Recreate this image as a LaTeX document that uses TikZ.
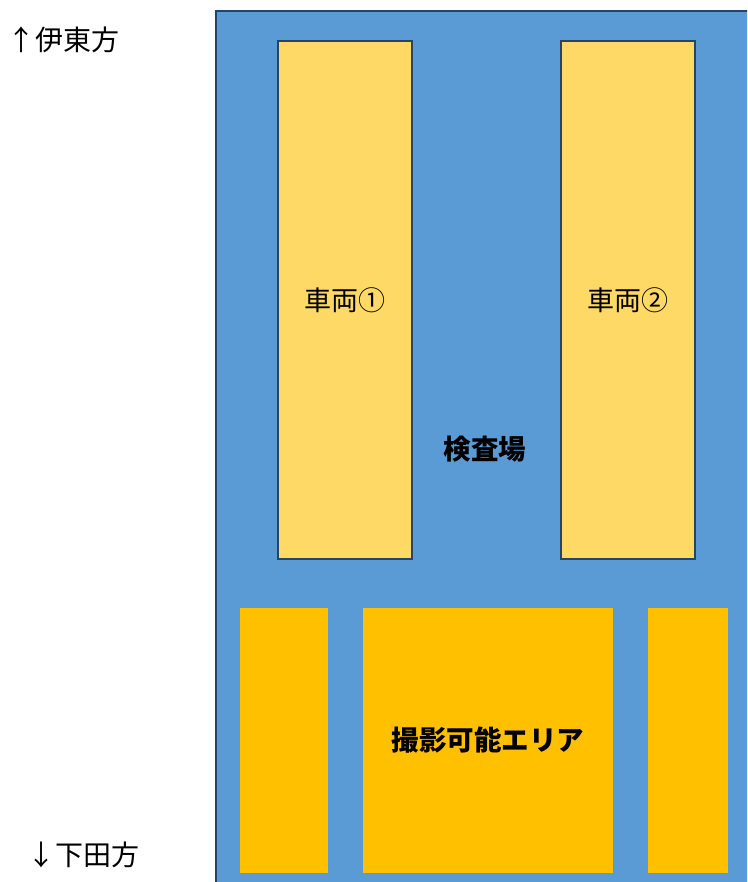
\documentclass[tikz,border=0pt]{standalone}
\usepackage{fontspec}
\setmainfont{Noto Sans CJK JP}
\usetikzlibrary{positioning}
\definecolor{yardblue}{RGB}{91,155,213}
\definecolor{edgeblue}{RGB}{40,68,100}
\definecolor{carfill}{RGB}{255,217,102}
\definecolor{photofill}{RGB}{255,192,0}
\tikzset{%
  yard/.style = { draw=edgeblue, fill=yardblue, line width=2.5pt },
  car/.style = { draw=edgeblue, fill=carfill, line width=2pt, minimum width=134pt, minimum height=518pt, inner sep=0pt, font=\fontsize{27}{31}\selectfont },
  spot/.style = { fill=photofill, minimum height=265pt, inner sep=0pt, font=\bfseries\fontsize{27.5}{31}\selectfont },
  dir/.style = { anchor=west, inner sep=0pt, font=\fontsize{28}{32}\selectfont }
}
\begin{document}
\begin{tikzpicture}[x=1pt,y=-1pt]

  \useasboundingbox (0,0) rectangle (747,882);
  \clip (0,0) rectangle (747,882);

  % Inspection yard
  \draw[yard] (216,11) rectangle (770,900);
  \node[font=\bfseries\fontsize{27.5}{31}\selectfont] (kensa) at (485,449) {検査場};

  % Cars
  \node[car] (car1) at (345,300) {車両①};
  \node[car] (car2) at (628,300) {車両②};

  % Photo area
  \node[spot,minimum width=88pt] (spotL) at (284,740.5) {};
  \node[spot,minimum width=250pt] (spotC) at (488,740.5) {撮影可能エリア};
  \node[spot,minimum width=80pt] (spotR) at (688,740.5) {};

  % Directions
  \node[dir] (ito) at (7,40) {↑伊東方};
  \node[dir] (shimoda) at (27,855) {↓下田方};

\end{tikzpicture}
\end{document}
